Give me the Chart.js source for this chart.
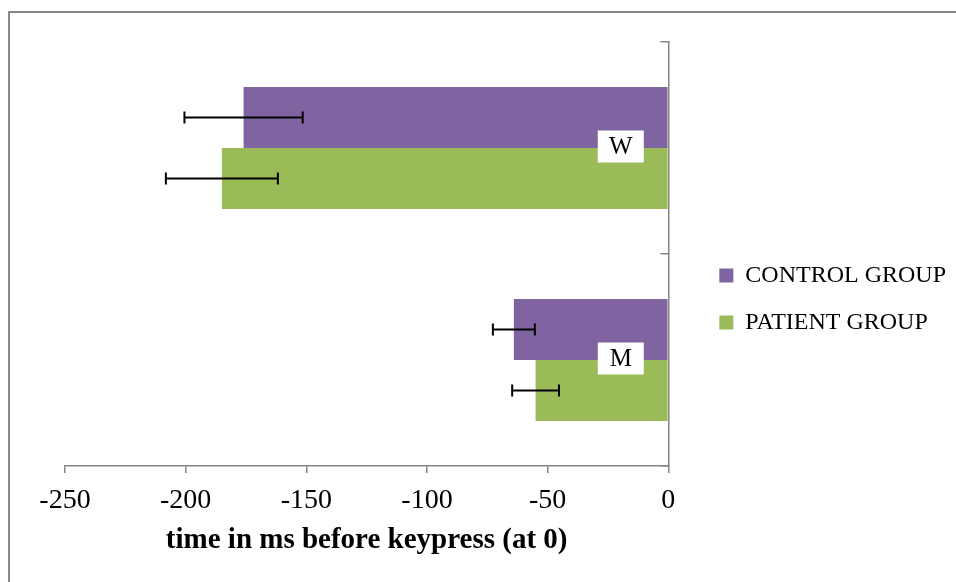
<!DOCTYPE html>
<html>
<head>
<meta charset="utf-8">
<script src="https://cdn.jsdelivr.net/npm/chart.js@4.4.1/dist/chart.umd.min.js"></script>
<style>
  html,body{margin:0;padding:0;background:#fff;}
  #wrap{position:relative;width:956px;height:582px;overflow:hidden;}
  #frame{position:absolute;left:8px;top:11px;width:1000px;height:700px;border-left:2px solid #878787;border-top:2px solid #878787;pointer-events:none;}
  #chart-box{position:absolute;left:0;top:0;width:956px;height:582px;}
</style>
</head>
<body>
<div id="wrap">
  <div id="frame"></div>
  <div id="chart-box"><canvas id="chart"></canvas></div>
</div>
<script>
// Data
const categories = ["W", "M"];
const controlValues = [-176, -64];
const patientValues = [-185, -55];
const controlErrors = [24.5, 8.7];
const patientErrors = [23.2, 9.7];
const seriesNames = ["CONTROL GROUP", "PATIENT GROUP"];
const xMin = -250, xMax = 0, xStep = 50;
const labelAt = -19.7; // where the W / M boxes sit on the time axis

const purple = "#8064A2";
const green = "#9BBB59";
const axisGrey = "#868686";
const serif = "'Liberation Serif', 'Times New Roman', serif";

const errorsByDataset = [controlErrors, patientErrors];

// error bars, drawn through the x scale
const errorBars = {
  id: "errorBars",
  afterDatasetsDraw(chart){
    const ctx = chart.ctx;
    const xs = chart.scales.x;
    ctx.save();
    ctx.strokeStyle = "#000";
    ctx.lineWidth = 2;
    chart.data.datasets.forEach((ds, i) => {
      const meta = chart.getDatasetMeta(i);
      meta.data.forEach((bar, j) => {
        const v = ds.data[j], e = errorsByDataset[i][j];
        const x1 = xs.getPixelForValue(v - e);
        const x2 = xs.getPixelForValue(v + e);
        const y = bar.y;
        ctx.beginPath();
        ctx.moveTo(x1, y); ctx.lineTo(x2, y);
        ctx.moveTo(x1, y - 6); ctx.lineTo(x1, y + 6);
        ctx.moveTo(x2, y - 6); ctx.lineTo(x2, y + 6);
        ctx.stroke();
      });
    });
    ctx.restore();
  }
};

// white boxes with the category letters
const categoryBoxes = {
  id: "categoryBoxes",
  afterDatasetsDraw(chart){
    const ctx = chart.ctx;
    const xs = chart.scales.x, ys = chart.scales.y;
    ctx.save();
    ctx.font = "25px " + serif;
    ctx.textAlign = "center";
    ctx.textBaseline = "middle";
    categories.forEach((c, j) => {
      const cx = xs.getPixelForValue(labelAt);
      const cy = ys.getPixelForValue(j) - 1.5;
      ctx.fillStyle = "#fff";
      ctx.fillRect(cx - 23, cy - 16, 46, 32);
      ctx.fillStyle = "#000";
      ctx.fillText(c, cx, cy + 1);
    });
    ctx.restore();
  }
};

new Chart(document.getElementById("chart"), {
  type: "bar",
  data: {
    labels: categories,
    datasets: [
      { label: seriesNames[0], data: controlValues, backgroundColor: purple, borderWidth: 0 },
      { label: seriesNames[1], data: patientValues, backgroundColor: green, borderWidth: 0 }
    ]
  },
  options: {
    indexAxis: "y",
    responsive: true,
    maintainAspectRatio: false,
    animation: false,
    datasets: { bar: { barPercentage: 1, categoryPercentage: 0.575 } },
    layout: { padding: { top: 42, bottom: 26, left: 65, right: 0 } },
    plugins: {
      tooltip: { enabled: false },
      legend: {
        position: "right",
        align: "center",
        maxWidth: 300,
        labels: {
          color: "#000",
          font: { family: serif, size: 24 },
          boxWidth: 14,
          boxHeight: 14,
          padding: 23
        }
      }
    },
    scales: {
      x: {
        type: "linear",
        position: "bottom",
        min: xMin,
        max: xMax,
        ticks: { stepSize: xStep, color: "#000", padding: 11, font: { family: serif, size: 28 } },
        grid: { drawOnChartArea: false, drawTicks: true, tickLength: 7, color: axisGrey, lineWidth: 1.5 },
        border: { display: true, color: axisGrey, width: 1.5 },
        title: {
          display: true,
          text: "time in ms before keypress (at 0)",
          color: "#000",
          font: { family: serif, size: 29, weight: "bold" },
          padding: { top: 4, bottom: -2 }
        },
        afterFit(scale){ scale.height = 90; }
      },
      y: {
        type: "category",
        position: "right",
        ticks: { display: false },
        grid: { drawOnChartArea: false, drawTicks: true, tickLength: -8, color: axisGrey, lineWidth: 1.5 },
        border: { display: true, color: axisGrey, width: 1.5 },
        afterFit(scale){ scale.width = 28; }
      }
    }
  },
  plugins: [errorBars, categoryBoxes]
});
</script>
</body>
</html>
